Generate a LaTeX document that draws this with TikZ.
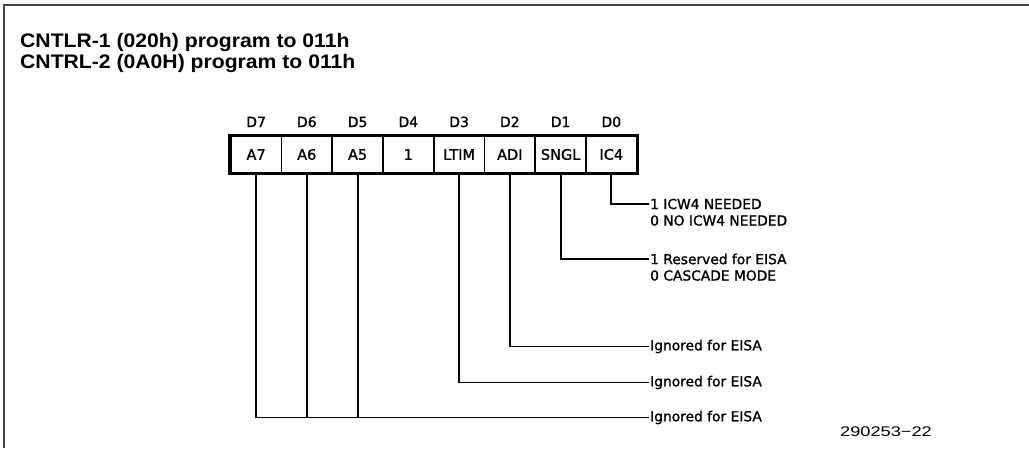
\documentclass[tikz,border=0pt]{standalone}
\usepackage{fontspec}
\newfontfamily\lbl[FakeBold=1.2]{DejaVu Sans}
\newfontfamily\ttl[FakeStretch=1.08]{Liberation Sans}
\newfontfamily\numf[FakeStretch=1.3]{Liberation Sans}
\begin{document}
\begin{tikzpicture}[x=1pt,y=-1pt,
  cell/.style={draw,line width=1.6pt,minimum width=50.75pt,minimum height=37pt,inner sep=0pt,
    font=\lbl\fontsize{14.5}{16}\selectfont},
  bitlbl/.style={anchor=base,inner sep=0pt,font=\lbl\fontsize{14}{16}\selectfont},
  desc/.style={anchor=west,inner sep=1pt,font=\lbl\fontsize{13.8}{16}\selectfont},
  conn/.style={line width=1.8pt},
  frameline/.style={line width=2pt,draw=black!72},
  titletext/.style={anchor=base west,inner sep=0pt,font=\ttl\bfseries\fontsize{19.6}{21}\selectfont}]
\useasboundingbox (0,0) rectangle (1029,448);
\fill[white] (0,0) rectangle (1029,448);
% frame
\coordinate (fb) at (4,448);
\coordinate (ftl) at (4,5);
\coordinate (fr) at (1029,5);
\draw[frameline] (fb) -- (ftl) -- (fr);
% title
\node[titletext] (t1) at (20,47.3) {CNTLR-1 (020h) program to 011h};
\node[titletext] (t2) at (20,68.6) {CNTRL-2 (0A0H) program to 011h};
% cells
\node[cell] (c7) at (256.1,154.5) {A7};
\node[cell] (c6) at (306.8,154.5) {A6};
\node[cell] (c5) at (357.6,154.5) {A5};
\node[cell] (c4) at (408.3,154.5) {1};
\node[cell] (c3) at (459.1,154.5) {LTIM};
\node[cell] (c2) at (509.8,154.5) {ADI};
\node[cell] (c1) at (560.6,154.5) {SNGL};
\node[cell] (c0) at (611.3,154.5) {IC4};
\draw[line width=3pt] (c7.north west) rectangle (c0.south east);
% bit labels
\node[bitlbl] (d7) at (256.1,127) {D7};
\node[bitlbl] (d6) at (306.8,127) {D6};
\node[bitlbl] (d5) at (357.6,127) {D5};
\node[bitlbl] (d4) at (408.3,127) {D4};
\node[bitlbl] (d3) at (459.1,127) {D3};
\node[bitlbl] (d2) at (509.8,127) {D2};
\node[bitlbl] (d1) at (560.6,127) {D1};
\node[bitlbl] (d0) at (611.3,127) {D0};
% descriptions
\node[desc] (e0a) at (649,204) {1 ICW4 NEEDED};
\node[desc] (e0b) at (649,220.5) {0 NO ICW4 NEEDED};
\node[desc] (e1a) at (649,259) {1 Reserved for EISA};
\node[desc] (e1b) at (649,275.5) {0 CASCADE MODE};
\node[desc] (e2) at (649,346.5) {Ignored for EISA};
\node[desc] (e3) at (649,382.5) {Ignored for EISA};
\node[desc] (e7) at (649,417.5) {Ignored for EISA};
% connectors
\draw[conn] (c0.south) |- (e0a.west);
\draw[conn] (c1.south) |- (e1a.west);
\draw[conn] (c2.south) |- (e2.west);
\draw[conn] (c3.south) |- (e3.west);
\draw[conn] (c7.south) |- (e7.west);
\draw[conn] (c6.south) -- (c6.south |- e7.west);
\draw[conn] (c5.south) -- (c5.south |- e7.west);
% figure number
\node[anchor=base west,inner sep=0pt,font=\numf\fontsize{14}{16}\selectfont] (fig) at (840,436.5) {290253−22};
\end{tikzpicture}
\end{document}
